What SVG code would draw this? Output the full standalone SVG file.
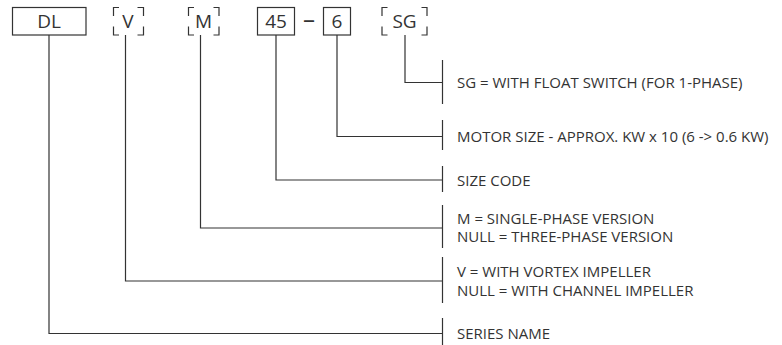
<svg xmlns="http://www.w3.org/2000/svg" width="782" height="345" viewBox="0 0 782 345">
<style>
.ln{fill:none;stroke:#333;stroke-width:1.2}
.code{font-family:"Open Sans","Liberation Sans",sans-serif;font-size:19px;fill:#333;text-anchor:middle}
.lbl{font-family:"Open Sans","Liberation Sans",sans-serif;font-size:15px;fill:#333}
</style>
<rect width="782" height="345" fill="#fff"/>
<g id="code-DL"><rect class="ln" x="12.5" y="7.5" width="73.5" height="27.5"/><text class="code" x="49" y="28">DL</text></g>
<g id="code-V"><path class="ln" d="M113.5,16V7.5H119M137.5,7.5H143.5V16M143.5,26.5V35H137.5M119,35H113.5V26.5"/><text class="code" x="128" y="28">V</text></g>
<g id="code-M"><path class="ln" d="M188.5,16V7.5H194M213.5,7.5H219V16M219,26.5V35H213.5M194,35H188.5V26.5"/><text class="code" x="203.5" y="28">M</text></g>
<g id="code-45"><rect class="ln" x="257.5" y="7.5" width="37" height="27.5"/><text class="code" x="276" y="28">45</text></g>
<g id="dash"><text class="code" x="309" y="27.5" style="font-size:24px">–</text></g>
<g id="code-6"><rect class="ln" x="323.5" y="7.5" width="27" height="27.5"/><text class="code" x="337" y="28">6</text></g>
<g id="code-SG"><path class="ln" d="M382,16V7.5H387.5M421.5,7.5H427V16M427,26.5V35H421.5M387.5,35H382V26.5"/><text class="code" x="404.5" y="28">SG</text></g>
<g id="connectors">
<path class="ln" d="M405,35V82.5H442.5"/>
<path class="ln" d="M337,35V136.5H442.5"/>
<path class="ln" d="M276,35V180H442.5"/>
<path class="ln" d="M200.5,35V228H442.5"/>
<path class="ln" d="M125.5,35V281H442.5"/>
<path class="ln" d="M49,35V333.5H442.5"/>
</g>
<g id="desc-SG"><path class="ln" d="M442.5,60V104"/><text class="lbl" x="457" y="87.5">SG = WITH FLOAT SWITCH (FOR 1-PHASE)</text></g>
<g id="desc-6"><path class="ln" d="M442.5,120V150"/><text class="lbl" x="457" y="141.5">MOTOR SIZE - APPROX. KW x 10 (6 -&gt; 0.6 KW)</text></g>
<g id="desc-45"><path class="ln" d="M442.5,166V192"/><text class="lbl" x="457" y="185.5">SIZE CODE</text></g>
<g id="desc-M"><path class="ln" d="M442.5,205V248"/><text class="lbl" x="457" y="223.5">M = SINGLE-PHASE VERSION</text><text class="lbl" x="457" y="242">NULL = THREE-PHASE VERSION</text></g>
<g id="desc-V"><path class="ln" d="M442.5,257V303"/><text class="lbl" x="457" y="276.5">V = WITH VORTEX IMPELLER</text><text class="lbl" x="457" y="295.5">NULL = WITH CHANNEL IMPELLER</text></g>
<g id="desc-DL"><path class="ln" d="M442.5,318V345"/><text class="lbl" x="457" y="338.5">SERIES NAME</text></g>
</svg>
